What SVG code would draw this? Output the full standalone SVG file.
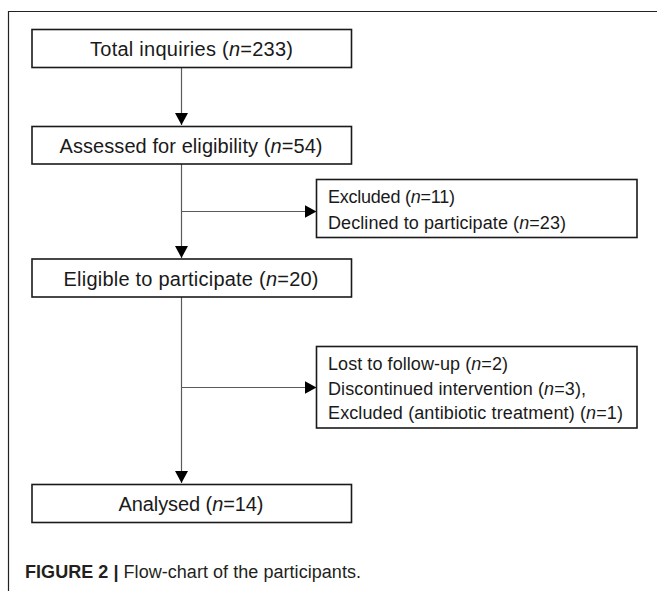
<svg xmlns="http://www.w3.org/2000/svg" width="657" height="591" viewBox="0 0 657 591">
<style>
.frame{fill:none;stroke:#222;stroke-width:1.2}
.box{fill:#fff;stroke:#1a1a1a;stroke-width:1.6}
.conn{fill:none;stroke:#5a5a5a;stroke-width:1.2}
.t{font-family:"Liberation Sans",Arial,sans-serif;fill:#1a1a1a}
.big{font-size:20px}
.small{font-size:18px}
.cap{font-family:"Liberation Sans",Arial,sans-serif;font-size:18px;fill:#231f20}
</style>
<defs>
<marker id="ah" markerUnits="userSpaceOnUse" markerWidth="12" markerHeight="13" refX="12" refY="6.5" orient="auto">
<path d="M0,0 L12,6.5 L0,13 Z" fill="#000"/>
</marker>
</defs>
<rect width="657" height="591" fill="#fff"/>
<path class="frame" d="M8.5,591 V11.5 H657"/>
<g id="connectors">
<line class="conn" x1="181.5" y1="67" x2="181.5" y2="125" marker-end="url(#ah)"/>
<line class="conn" x1="181.5" y1="164" x2="181.5" y2="258" marker-end="url(#ah)"/>
<line class="conn" x1="181.5" y1="211.5" x2="316.5" y2="211.5" marker-end="url(#ah)"/>
<line class="conn" x1="181.5" y1="297" x2="181.5" y2="483" marker-end="url(#ah)"/>
<line class="conn" x1="181.5" y1="387.5" x2="316.5" y2="387.5" marker-end="url(#ah)"/>
</g>
<g id="total">
<rect class="box" x="32" y="29.5" width="319.5" height="38"/>
<text class="t big" x="191.5" y="56" text-anchor="middle" textLength="203">Total inquiries (<tspan font-style="italic">n</tspan>=233)</text>
</g>
<g id="assessed">
<rect class="box" x="32" y="126.5" width="319.5" height="37.5"/>
<text class="t big" x="191" y="152.5" text-anchor="middle" textLength="263">Assessed for eligibility (<tspan font-style="italic">n</tspan>=54)</text>
</g>
<g id="excluded">
<rect class="box" x="316.5" y="179.5" width="320.5" height="58"/>
<text class="t small" x="328" y="203" textLength="127">Excluded (<tspan font-style="italic">n</tspan>=11)</text>
<text class="t small" x="328" y="229" textLength="238">Declined to participate (<tspan font-style="italic">n</tspan>=23)</text>
</g>
<g id="eligible">
<rect class="box" x="32" y="259" width="319.5" height="38"/>
<text class="t big" x="191" y="285.5" text-anchor="middle" textLength="255">Eligible to participate (<tspan font-style="italic">n</tspan>=20)</text>
</g>
<g id="lost">
<rect class="box" x="316.5" y="346.5" width="320.5" height="81.5"/>
<text class="t small" x="328" y="370" textLength="180">Lost to follow-up (<tspan font-style="italic">n</tspan>=2)</text>
<text class="t small" x="328" y="394.5" textLength="258">Discontinued intervention (<tspan font-style="italic">n</tspan>=3),</text>
<text class="t small" x="328" y="419" textLength="295">Excluded (antibiotic treatment) (<tspan font-style="italic">n</tspan>=1)</text>
</g>
<g id="analysed">
<rect class="box" x="32" y="484.5" width="319.5" height="38"/>
<text class="t big" x="191" y="511" text-anchor="middle" textLength="145">Analysed (<tspan font-style="italic">n</tspan>=14)</text>
</g>
<text class="cap" x="25" y="578" textLength="336"><tspan font-weight="bold">FIGURE 2</tspan> <tspan font-weight="bold">|</tspan> Flow-chart of the participants.</text>
</svg>
